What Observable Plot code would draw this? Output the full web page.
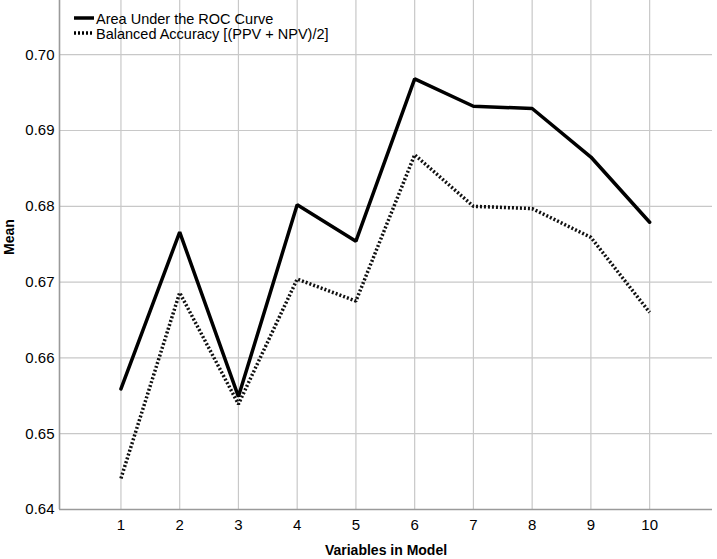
<!DOCTYPE html>
<html>
<head>
<meta charset="utf-8">
<script src="https://cdn.jsdelivr.net/npm/d3@7"></script>
<script src="https://cdn.jsdelivr.net/npm/@observablehq/plot@0.6"></script>
<style>
  html, body { margin: 0; padding: 0; background: #fff; }
  #wrap { position: relative; width: 717px; height: 559px; font-family: "Liberation Sans", Arial, sans-serif; }
  #legend { position: absolute; left: 74px; top: 12px; font-size: 14.5px; color: #000; line-height: 15px; }
  #legend .row { display: flex; align-items: center; height: 15px; white-space: nowrap; }
  #legend svg { margin-right: 2px; position: relative; top: -2px; }
</style>
</head>
<body>
<div id="wrap"></div>
<script>
const variables = [1, 2, 3, 4, 5, 6, 7, 8, 9, 10];
const aucValues = [0.6559, 0.6766, 0.6549, 0.6802, 0.6754, 0.6968, 0.6932, 0.6929, 0.6865, 0.6779];
const balancedValues = [0.6441, 0.6686, 0.6539, 0.6704, 0.6675, 0.6868, 0.6800, 0.6797, 0.6759, 0.6660];
const seriesNames = ["Area Under the ROC Curve", "Balanced Accuracy [(PPV + NPV)/2]"];
const yTicks = [0.64, 0.65, 0.66, 0.67, 0.68, 0.69, 0.70];

const data = [];
variables.forEach((v, i) => {
  data.push({x: v, y: aucValues[i], series: seriesNames[0]});
  data.push({x: v, y: balancedValues[i], series: seriesNames[1]});
});

const xDomain = [-0.046, 11.07];
const yDomain = [0.64, 0.70715];
const dotted = "2,2";

const chart = Plot.plot({
  width: 717,
  height: 559,
  marginLeft: 59,
  marginRight: 5,
  marginTop: 0,
  marginBottom: 50,
  style: {fontFamily: "'Liberation Sans', Arial, sans-serif", fontSize: "15px", color: "#000", background: "#fff"},
  x: {domain: xDomain},
  y: {domain: yDomain},
  marks: [
    Plot.gridX(variables, {stroke: "#c8c8c8", strokeOpacity: 1, strokeWidth: 1.2}),
    Plot.gridY(yTicks, {stroke: "#c8c8c8", strokeOpacity: 1, strokeWidth: 1.2}),
    Plot.ruleX([xDomain[0]], {stroke: "#9a9a9a", strokeWidth: 1.6}),
    Plot.ruleY([yDomain[0]], {stroke: "#9a9a9a", strokeWidth: 1.6}),
    Plot.axisX(variables, {tickSize: 0, tickPadding: 10, fontSize: 15, label: null, tickFormat: d => String(d)}),
    Plot.axisY(yTicks, {tickSize: 0, tickPadding: 5, fontSize: 15, label: null, tickFormat: d => d.toFixed(2)}),
    Plot.text(["Variables in Model"], {frameAnchor: "bottom", dy: 45, fontWeight: "bold", fontSize: 14, lineAnchor: "bottom"}),
    Plot.text(["Mean"], {frameAnchor: "left", dx: -50, rotate: -90, fontWeight: "bold", fontSize: 14}),
    Plot.line(data.filter(d => d.series === seriesNames[1]), {x: "x", y: "y", stroke: "#111", strokeWidth: 3.5, strokeDasharray: dotted, strokeLinecap: "butt", strokeLinejoin: "miter"}),
    Plot.line(data.filter(d => d.series === seriesNames[0]), {x: "x", y: "y", stroke: "#000", strokeWidth: 3.5, strokeLinejoin: "miter"})
  ]
});

const wrap = document.getElementById("wrap");
wrap.appendChild(chart);

const legend = document.createElement("div");
legend.id = "legend";
const dashes = [null, dotted];
seriesNames.forEach((name, i) => {
  const row = document.createElement("div");
  row.className = "row";
  const dash = dashes[i] ? ` stroke-dasharray="${dashes[i]}"` : "";
  row.innerHTML = `<svg width="20" height="6"><line x1="0" y1="3" x2="20" y2="3" stroke="#000" stroke-width="3.5"${dash}/></svg><span>${name}</span>`;
  legend.appendChild(row);
});
wrap.appendChild(legend);
</script>
</body>
</html>
